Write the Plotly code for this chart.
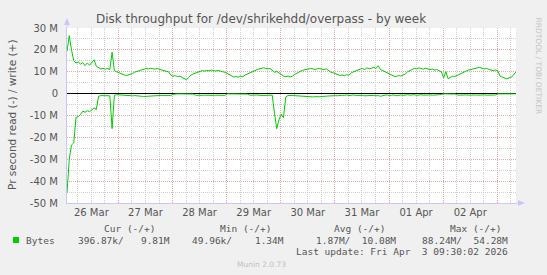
import pandas as pd
import plotly.graph_objects as go

# ---------------- data (values in bytes/s) ----------------
start_time = "2026-03-26 01:12"
step = "1h"

write_mb = [
    19.3, 26.5, 20.0, 15.0, 14.0, 14.5, 13.5, 14.2, 12.8, 14.0,
    13.0, 14.5, 15.5, 12.5, 12.0, 11.3, 11.6, 11.2, 11.5, 11.0,
    18.9, 10.5, 10.0, 9.5, 9.0, 8.5, 8.3, 8.5, 8.8, 9.2,
    9.8, 10.2, 10.5, 11.0, 11.2, 11.5, 11.3, 11.6, 11.4, 11.2,
    11.5, 11.0, 10.8, 10.5, 10.3, 10.0, 8.5, 8.0, 8.2, 7.8,
    8.0, 7.5, 7.0, 6.3, 7.5, 8.5, 9.0, 9.5, 10.0, 10.2,
    10.5, 10.3, 10.6, 10.4, 10.8, 10.5, 10.3, 10.6, 10.2, 10.0,
    9.8, 9.2, 8.5, 8.0, 7.6, 7.8, 7.5, 8.0, 7.7, 8.5,
    9.0, 9.5, 10.0, 10.5, 11.0, 11.3, 11.5, 11.8, 11.6, 11.3,
    11.5, 10.5, 9.8, 10.2, 9.5, 8.5, 8.0, 7.8, 8.0, 7.6,
    8.0, 8.8, 9.5, 10.0, 10.5, 10.8, 11.0, 11.2, 11.5, 11.3,
    11.0, 11.4, 11.5, 11.2, 11.0, 11.3, 10.5, 9.8, 9.5, 9.0,
    8.5, 8.3, 8.5, 8.2, 8.6, 8.5, 9.5, 10.0, 10.5, 11.0,
    11.2, 11.5, 11.0, 11.8, 11.4, 11.6, 12.0, 11.5, 12.7, 11.0,
    10.5, 10.0, 9.5, 9.0, 8.2, 8.0, 7.8, 8.3, 8.0, 8.5,
    9.0, 10.0, 10.5, 11.2, 11.5, 11.3, 11.8, 11.5, 11.2, 11.6,
    11.4, 11.0, 11.2, 10.8, 11.0, 10.5, 10.0, 7.3, 10.0, 6.8,
    7.5, 8.0, 7.8, 8.3, 9.0, 9.5, 10.0, 10.3, 10.8, 11.0,
    11.2, 11.5, 11.8, 12.0, 11.6, 11.3, 11.5, 11.0, 10.8, 10.5,
    10.8, 10.5, 8.0, 7.5, 7.0, 6.8, 7.2, 7.5, 8.5, 9.8,
]

read_mb = [
    -45.3, -30.0, -23.5, -22.5, -10.8, -10.5, -9.6, -8.0, -8.5, -7.8,
    -8.3, -7.5, -6.5, -7.2, -1.2, -0.9, -1.0, -0.8, -0.9, -1.0,
    -16.0, -0.8, -0.5, -0.6, -0.5, -0.7, -0.9, -0.8, -0.9, -1.0,
    -0.9, -1.1, -1.2, -1.2, -1.3, -1.2, -1.1, -1.2, -1.0, -0.9,
    -1.0, -0.9, -0.8, -0.9, -1.0, -0.8, -0.9, -0.3, -0.1, -0.1,
    -0.1, -0.1, -0.1, -0.1, -0.1, -0.1, -0.2, -0.7, -0.8, -0.7,
    -0.8, -0.7, -0.8, -0.9, -0.7, -0.8, -0.7, -0.8, -0.9, -0.7,
    -0.8, -0.1, -0.1, -0.1, -0.1, -0.1, -0.1, -0.1, -0.1, -0.1,
    -0.2, -0.7, -0.8, -0.7, -0.6, -0.8, -0.7, -0.9, -0.8, -0.7,
    -0.6, -0.7, -9.0, -16.0, -12.0, -9.5, -11.0, -1.5, -0.9, -0.8,
    -1.0, -0.9, -1.0, -1.1, -1.2, -1.3, -1.5, -1.4, -1.5, -1.5,
    -1.4, -1.5, -1.4, -1.3, -1.2, -1.1, -1.0, -1.0, -1.1, -0.9,
    -1.0, -0.8, -0.7, -0.8, -0.6, -0.9, -0.7, -0.6, -0.8, -0.7,
    -0.9, -0.8, -1.0, -0.9, -1.1, -0.9, -0.8, -1.0, -0.9, -1.2,
    -0.8, -0.7, -0.6, -0.9, -0.7, -0.6, -1.0, -0.7, -0.6, -0.8,
    -0.6, -0.5, -0.7, -0.6, -0.5, -0.8, -0.6, -0.5, -0.7, -0.6,
    -0.5, -0.6, -0.7, -0.5, -0.6, -0.5, -0.2, -0.1, -0.1, -0.2,
    -0.1, -0.2, -0.1, -0.6, -0.7, -0.6, -0.5, -0.6, -0.7, -0.6,
    -0.5, -0.6, -0.7, -0.6, -0.5, -0.6, -0.7, -0.6, -0.5, -0.6,
    -0.6, -0.1, -0.1, -0.1, -0.1, -0.1, -0.1, -0.1, -0.1, -0.1,
]

y_tick_values = [-50e6, -40e6, -30e6, -20e6, -10e6, 0, 10e6, 20e6, 30e6]
y_tick_labels = ["-50 M", "-40 M", "-30 M", "-20 M", "-10 M", "0", "10 M", "20 M", "30 M"]
x_range = ["2026-03-26 01:12", "2026-04-03 08:18"]

title_text = "Disk throughput for /dev/shrikehdd/overpass - by week"
y_title = "Pr second read (-) / write (+)"
legend_name = "Bytes"
col_headers = ["Cur (-/+)", "Min (-/+)", "Avg (-/+)", "Max (-/+)"]
col_values = ["396.87k/   9.81M", "49.96k/    1.34M", "1.87M/  10.08M", "88.24M/  54.28M"]
last_update = "Last update: Fri Apr  3 09:30:02 2026"
footer = "Munin 2.0.73"
side_text = "RRDTOOL / TOBI OETIKER"

# ---------------- figure ----------------
times = pd.date_range(start_time, periods=len(write_mb), freq=step)
GREEN = "#00CC00"
W, H = 547, 275
L, R, T, B = 67, 31, 28, 72
PW, PH = W - L - R, H - T - B


def px(x):
    return (x - L) / PW


def py(y):
    return (H - B - y) / PH


fig = go.Figure()
fig.add_trace(go.Scatter(x=times, y=[v * 1e6 for v in read_mb], mode="lines",
                         line=dict(color=GREEN, width=1), showlegend=False,
                         hoverinfo="skip"))
fig.add_trace(go.Scatter(x=times, y=[v * 1e6 for v in write_mb], mode="lines",
                         line=dict(color=GREEN, width=1), showlegend=False,
                         hoverinfo="skip"))

MAJOR = "#E6A8A8"
MINOR = "#CFCFCF"
AXIS = "#C8C8F8"
TXT = "#555555"
DOT = "1px,1px"

fig.update_layout(
    width=W, height=H,
    margin=dict(l=L, r=R, t=T, b=B, pad=0),
    paper_bgcolor="#F0F0F0", plot_bgcolor="#FFFFFF",
    font=dict(family="DejaVu Sans", size=10, color=TXT),
    title=dict(text=title_text, x=261 / W, xanchor="center", xref="container",
               y=1 - 19 / H, yanchor="middle", yref="container",
               font=dict(family="DejaVu Sans", size=12, color=TXT)),
    xaxis=dict(type="date", range=x_range, tickmode="linear",
               tick0="2026-03-27 00:00", dtick=86400000, tickformat="%d %b",
               ticklabelmode="period", ticks="", showgrid=True,
               gridcolor=MAJOR, griddash=DOT, gridwidth=1,
               showline=True, linecolor=AXIS, linewidth=1, zeroline=False,
               tickfont=dict(size=10, color=TXT),
               minor=dict(tickmode="linear", tick0="2026-03-27 00:00",
                          dtick=21600000, showgrid=True, gridcolor=MINOR,
                          griddash=DOT, gridwidth=1)),
    yaxis=dict(range=[-50e6, 30e6], tickmode="array", tickvals=y_tick_values,
               ticktext=y_tick_labels, ticks="", showgrid=True,
               gridcolor=MAJOR, griddash=DOT, gridwidth=1,
               zeroline=True, zerolinecolor="#000000", zerolinewidth=1,
               showline=True, linecolor=AXIS, linewidth=1,
               tickfont=dict(size=10, color=TXT), ticklabelstandoff=6,
               minor=dict(tickmode="linear", tick0=0, dtick=5e6, showgrid=True,
                          gridcolor=MINOR, griddash=DOT, gridwidth=1)),
)

# axis arrows
fig.add_shape(type="line", xref="paper", yref="paper", x0=0, x1=0, y0=1, y1=py(20),
              line=dict(color=AXIS, width=1))
fig.add_shape(type="path", xref="paper", yref="paper",
              path=f"M {px(64)} {py(25)} L {px(70)} {py(25)} L {px(67)} {py(18)} Z",
              fillcolor=AXIS, line=dict(width=0))
fig.add_shape(type="line", xref="paper", yref="paper", x0=1, x1=px(520), y0=0, y1=0,
              line=dict(color=AXIS, width=1))
fig.add_shape(type="path", xref="paper", yref="paper",
              path=f"M {px(518)} {py(200)} L {px(518)} {py(206)} L {px(525)} {py(203)} Z",
              fillcolor=AXIS, line=dict(width=0))

# y axis title
fig.add_annotation(text=y_title, xref="paper", yref="paper", x=px(12), y=py(115),
                   textangle=-90, showarrow=False, xanchor="center", yanchor="middle",
                   font=dict(family="DejaVu Sans", size=10.5, color=TXT))

# side watermark
fig.add_annotation(text=side_text, xref="paper", yref="paper", x=px(538), y=py(15),
                   textangle=90, showarrow=False, xanchor="center", yanchor="top",
                   font=dict(family="DejaVu Sans", size=7.5, color="#C4C4C4"))

MONO = "DejaVu Sans Mono"
MS = 9.5
# legend square
fig.add_shape(type="rect", xref="paper", yref="paper", x0=px(13), x1=px(19),
              y0=py(243), y1=py(237), fillcolor=GREEN, line=dict(color=GREEN, width=0))
fig.add_annotation(text=legend_name, xref="paper", yref="paper", x=px(24), y=py(240),
                   showarrow=False, xanchor="left", yanchor="middle",
                   font=dict(family=MONO, size=MS, color=TXT))
header_right = [157, 273, 387, 503]
for hx, htxt in zip(header_right, col_headers):
    fig.add_annotation(text=htxt, xref="paper", yref="paper", x=px(hx), y=py(228),
                       showarrow=False, xanchor="right", yanchor="middle",
                       font=dict(family=MONO, size=MS, color=TXT))
value_right = [172, 286, 398, 510]
for vx, vtxt in zip(value_right, col_values):
    fig.add_annotation(text=vtxt.replace(" ", "&nbsp;"), xref="paper", yref="paper",
                       x=px(vx), y=py(240),
                       showarrow=False, xanchor="right", yanchor="middle",
                       font=dict(family=MONO, size=MS, color=TXT))
fig.add_annotation(text=last_update.replace(" ", "&nbsp;"), xref="paper", yref="paper",
                   x=px(510), y=py(251.5), showarrow=False, xanchor="right",
                   yanchor="middle", font=dict(family=MONO, size=MS, color=TXT))
fig.add_annotation(text=footer, xref="paper", yref="paper", x=px(261), y=py(264.5),
                   showarrow=False, xanchor="center", yanchor="middle",
                   font=dict(family="DejaVu Sans", size=7.5, color="#C0C0C0"))

fig.write_html("out.html")
